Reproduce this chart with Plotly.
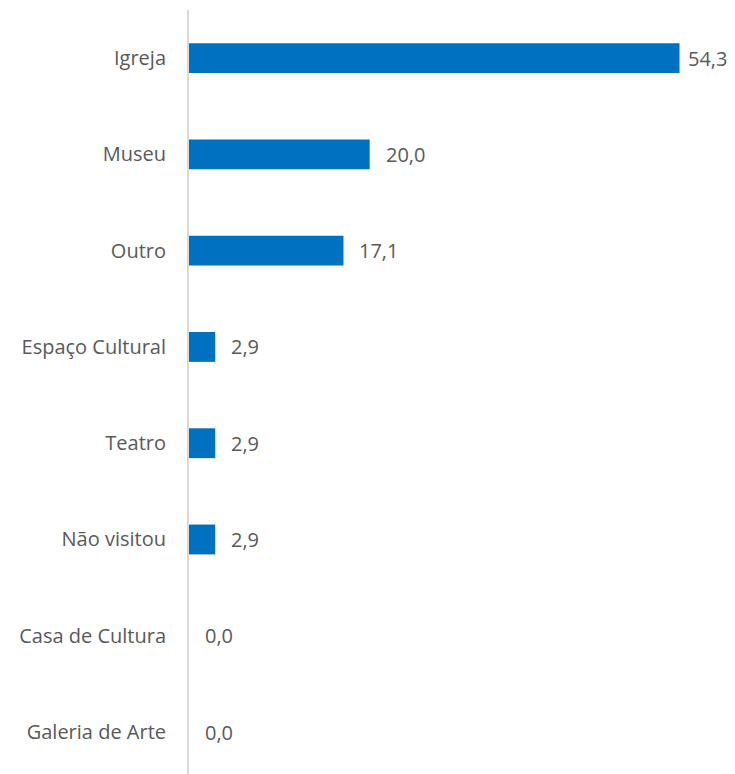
import plotly.graph_objects as go

categories = ["Igreja", "Museu", "Outro", "Espaço Cultural", "Teatro",
              "Não visitou", "Casa de Cultura", "Galeria de Arte"]
values = [54.3, 20.0, 17.1, 2.9, 2.9, 2.9, 0.0, 0.0]
labels = ["54,3", "20,0", "17,1", "2,9", "2,9", "2,9", "0,0", "0,0"]

positions = list(range(len(categories)))
FONT = "Open Sans"
TXT = "#595959"

fig = go.Figure()
fig.add_trace(go.Bar(
    x=values, y=positions, orientation="h",
    marker=dict(color="#0070C0", line=dict(width=0)),
    width=0.31, hoverinfo="skip",
))

for v, p, lab in zip(values, positions, labels):
    fig.add_annotation(
        x=v, y=p, text=lab, showarrow=False, xanchor="left", yanchor="middle",
        xshift=6 if v == max(values) else 14,
        font=dict(family=FONT, size=20, color=TXT),
    )

fig.update_layout(
    width=727, height=766,
    margin=dict(l=181, r=4, t=2, b=0),
    paper_bgcolor="white", plot_bgcolor="white",
    showlegend=False,
    xaxis=dict(range=[0, 60], showgrid=False, zeroline=False,
               showticklabels=False, showline=False, fixedrange=True),
    yaxis=dict(range=[7.436, -0.5], tickvals=positions, ticktext=categories,
               showgrid=False, zeroline=False, showline=True,
               linecolor="#D9D9D9", linewidth=2, ticks="",
               ticklabelstandoff=17,
               tickfont=dict(family=FONT, size=20, color=TXT)),
)

fig.write_html("out.html")
